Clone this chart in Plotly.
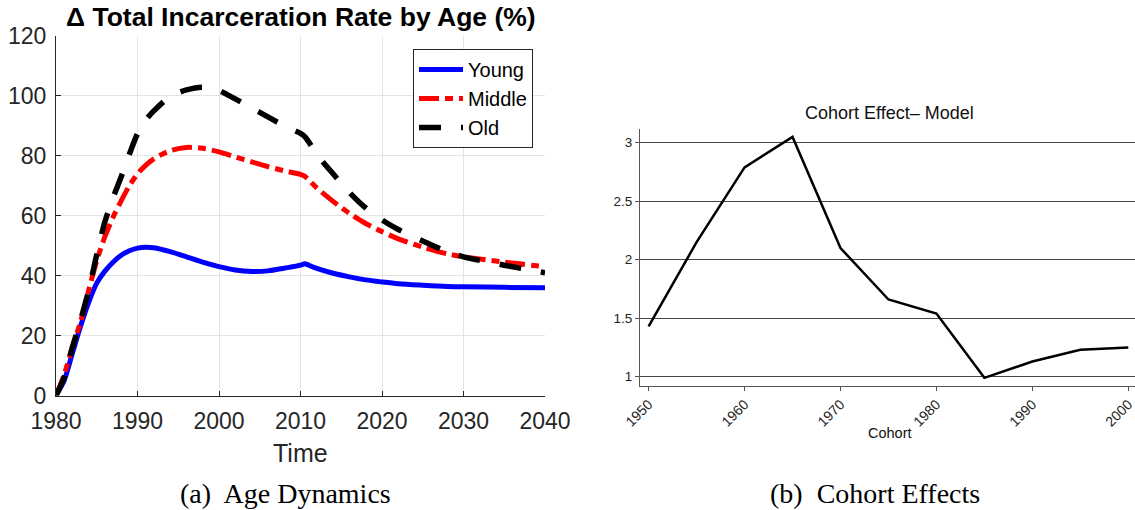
import plotly.graph_objects as go

# ---- Panel (a): Age dynamics ----
years = [1980, 1981, 1982, 1983, 1984, 1985, 1986, 1987, 1988, 1989, 1990, 1991, 1992,
         1994, 1996, 1998, 2000, 2002, 2004, 2006, 2008, 2010, 2010.5, 2011, 2012,
         2014, 2016, 2018, 2020, 2022, 2025, 2028, 2030, 2035, 2040]
young = [0, 5, 14, 23, 31, 37.5, 41.5, 44.5, 46.8, 48.3, 49.2, 49.5, 49.3,
         48.0, 46.3, 44.5, 43.0, 41.9, 41.4, 41.6, 42.5, 43.5, 44.0, 43.5, 42.4,
         40.8, 39.6, 38.6, 37.9, 37.3, 36.8, 36.4, 36.3, 36.1, 36.0]
middle = [0, 7, 16, 24.5, 35, 45, 53, 59.5, 65, 70, 74, 76.8, 79,
          81.7, 82.8, 82.5, 81.3, 79.6, 78.0, 76.4, 75.0, 73.8, 73.2, 72.0, 69.3,
          64.8, 60.8, 57.4, 54.7, 52.3, 49.5, 47.3, 46.3, 44.5, 43.0]
old = [0, 6, 16, 25, 35, 47, 58, 66, 73, 80.5, 87.4, 91.9, 95,
       99.8, 102.0, 102.9, 101.8, 99.0, 96.0, 93.0, 90.0, 87.5, 86.5, 84.7, 80.5,
       74.0, 67.8, 62.6, 58.6, 55.4, 51.6, 48.0, 46.3, 43.5, 41.0]
series_names = ["Young", "Middle", "Old"]
left_xticks = [1980, 1990, 2000, 2010, 2020, 2030, 2040]
left_yticks = [0, 20, 40, 60, 80, 100, 120]

# ---- Panel (b): Cohort effects ----
cohorts = [1950, 1955, 1960, 1965, 1970, 1975, 1980, 1985, 1990, 1995, 2000]
cohort_effect = [1.43, 2.15, 2.79, 3.05, 2.10, 1.66, 1.54, 0.99, 1.13, 1.23, 1.25]
right_xticks = [1950, 1960, 1970, 1980, 1990, 2000]
right_yticks = [1, 1.5, 2, 2.5, 3]

W, H = 1135, 510
SANS = "Liberation Sans, Arial, Helvetica, sans-serif"
SERIF = "Liberation Serif, Times New Roman, serif"
AX = "#262626"

fig = go.Figure()
styles = [
    dict(color="#0000ff", width=5, dash="solid"),
    dict(color="#ff0000", width=5, dash="20px,6px,8px,6px"),
    dict(color="#000000", width=5.5, dash="22px,20px"),
]
for name, vals, st in zip(series_names, [young, middle, old], styles):
    fig.add_trace(go.Scatter(x=years, y=vals, mode="lines", name=name,
                             line=dict(shape="spline", smoothing=0.8, **st),
                             xaxis="x", yaxis="y"))

fig.add_trace(go.Scatter(x=cohorts, y=cohort_effect, mode="lines", showlegend=False,
                         line=dict(color="#000000", width=2.5),
                         xaxis="x2", yaxis="y2"))

fig.update_layout(
    width=W, height=H,
    margin=dict(l=0, r=0, t=0, b=0, autoexpand=False),
    paper_bgcolor="white", plot_bgcolor="white",
    font=dict(family=SANS, color=AX),
    xaxis=dict(domain=[56 / W, 545 / W], range=[1980, 2040], tickvals=left_xticks,
               ticks="inside", ticklen=5, tickcolor=AX, showline=True, linecolor=AX,
               linewidth=1, showgrid=True, gridcolor="#e4e4e4", gridwidth=1,
               zeroline=False, tickfont=dict(size=23, color=AX, family=SANS),
               ticklabelstandoff=5, ticklabeloverflow="allow",
               anchor="y", automargin=False),
    yaxis=dict(domain=[(H - 395.5) / H, (H - 36) / H], range=[0, 120], tickvals=left_yticks,
               ticks="inside", ticklen=5, tickcolor=AX, showline=True, linecolor=AX,
               linewidth=1, showgrid=True, gridcolor="#e4e4e4", gridwidth=1,
               zeroline=False, tickfont=dict(size=23, color=AX, family=SANS),
               ticklabelstandoff=4, ticklabeloverflow="allow",
               anchor="x", automargin=False),
    xaxis2=dict(domain=[640 / W, 1.0], range=[1949.1, 2000.7], tickvals=right_xticks,
                ticktext=[str(t) for t in right_xticks], tickangle=-45,
                ticks="outside", ticklen=4, tickcolor="#555", showline=True,
                linecolor="#555", linewidth=1, showgrid=False, zeroline=False,
                tickfont=dict(size=14, color="#222", family=SANS), anchor="y2",
                ticklabeloverflow="allow", automargin=False),
    yaxis2=dict(domain=[(H - 385.7) / H, (H - 129.3) / H], range=[0.923, 3.115],
                tickvals=right_yticks, ticktext=["1", "1.5", "2", "2.5", "3"],
                ticks="outside", ticklen=4, tickcolor="#555", showline=True,
                linecolor="#555", linewidth=1, showgrid=True, gridcolor="#444",
                gridwidth=1, zeroline=False,
                tickfont=dict(size=13.5, color="#222", family=SANS), anchor="x2",
                ticklabeloverflow="allow", automargin=False),
    legend=dict(x=533 / W, y=1 - 49 / H, xanchor="right", yanchor="top",
                bgcolor="white", bordercolor=AX, borderwidth=1,
                font=dict(size=20, color="#000", family=SANS),
                itemwidth=44, tracegroupgap=0),
    showlegend=True,
)

annotations = [
    dict(text="<b>\u0394 Total Incarceration Rate by Age (%)</b>", x=301 / W, y=1 - 17 / H,
         font=dict(size=26.5, color="#000", family=SANS)),
    dict(text="Time", x=300 / W, y=1 - 453 / H, font=dict(size=25, color=AX, family=SANS)),
    dict(text="(a)  Age Dynamics", x=285 / W, y=1 - 493 / H,
         font=dict(size=28, color="#000", family=SERIF)),
    dict(text="Cohort Effect\u2013 Model", x=889 / W, y=1 - 113 / H,
         font=dict(size=18, color="#111", family=SANS)),
    dict(text="Cohort", x=890 / W, y=1 - 433 / H, font=dict(size=14.5, color="#111", family=SANS)),
    dict(text="(b)  Cohort Effects", x=875 / W, y=1 - 493 / H,
         font=dict(size=28, color="#000", family=SERIF)),
]
for a in annotations:
    a.update(xref="paper", yref="paper", showarrow=False, xanchor="center", yanchor="middle")
fig.update_layout(annotations=annotations)

fig.write_html("out.html")
